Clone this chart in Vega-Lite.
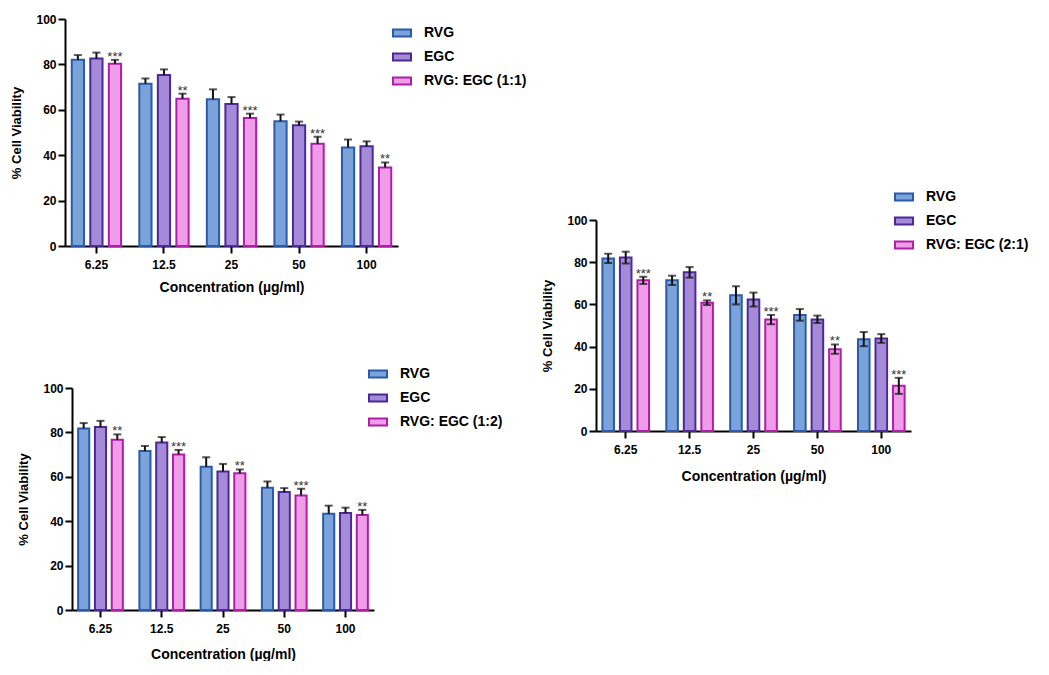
{
  "$schema": "https://vega.github.io/schema/vega-lite/v6.json",
  "padding": {"left": 10, "top": 13, "right": 0, "bottom": 0},
  "datasets": {
    "p1": [
      {"conc": "6.25", "series": "RVG", "value": 82.0, "lo": 82.0, "hi": 84.1},
      {"conc": "6.25", "series": "EGC", "value": 82.6, "lo": 82.6, "hi": 85.2},
      {"conc": "6.25", "series": "RVG: EGC (1:1)", "value": 80.3, "lo": 80.3, "hi": 82.0, "sig": "***"},
      {"conc": "12.5", "series": "RVG", "value": 71.5, "lo": 71.5, "hi": 73.8},
      {"conc": "12.5", "series": "EGC", "value": 75.3, "lo": 75.3, "hi": 77.8},
      {"conc": "12.5", "series": "RVG: EGC (1:1)", "value": 64.9, "lo": 64.9, "hi": 67.1, "sig": "**"},
      {"conc": "25", "series": "RVG", "value": 64.6, "lo": 64.6, "hi": 69.0},
      {"conc": "25", "series": "EGC", "value": 62.6, "lo": 62.6, "hi": 65.6},
      {"conc": "25", "series": "RVG: EGC (1:1)", "value": 56.4, "lo": 56.4, "hi": 58.3, "sig": "***"},
      {"conc": "50", "series": "RVG", "value": 55.0, "lo": 55.0, "hi": 57.9},
      {"conc": "50", "series": "EGC", "value": 53.2, "lo": 53.2, "hi": 54.8},
      {"conc": "50", "series": "RVG: EGC (1:1)", "value": 45.0, "lo": 45.0, "hi": 48.1, "sig": "***"},
      {"conc": "100", "series": "RVG", "value": 43.4, "lo": 43.4, "hi": 46.9},
      {"conc": "100", "series": "EGC", "value": 43.9, "lo": 43.9, "hi": 46.1},
      {"conc": "100", "series": "RVG: EGC (1:1)", "value": 34.6, "lo": 34.6, "hi": 36.8, "sig": "**"}
    ],
    "p2": [
      {"conc": "6.25", "series": "RVG", "value": 81.8, "lo": 79.6, "hi": 84.0},
      {"conc": "6.25", "series": "EGC", "value": 82.2, "lo": 79.4, "hi": 85.0},
      {"conc": "6.25", "series": "RVG: EGC (2:1)", "value": 71.4, "lo": 69.7, "hi": 73.1, "sig": "***"},
      {"conc": "12.5", "series": "RVG", "value": 71.4, "lo": 69.2, "hi": 73.6},
      {"conc": "12.5", "series": "EGC", "value": 75.2, "lo": 72.7, "hi": 77.7},
      {"conc": "12.5", "series": "RVG: EGC (2:1)", "value": 60.8, "lo": 59.7, "hi": 61.9, "sig": "**"},
      {"conc": "25", "series": "RVG", "value": 64.3, "lo": 60.0, "hi": 68.6},
      {"conc": "25", "series": "EGC", "value": 62.3, "lo": 59.0, "hi": 65.6},
      {"conc": "25", "series": "RVG: EGC (2:1)", "value": 52.8, "lo": 50.6, "hi": 55.0, "sig": "***"},
      {"conc": "50", "series": "RVG", "value": 55.0, "lo": 52.3, "hi": 57.8},
      {"conc": "50", "series": "EGC", "value": 52.9, "lo": 51.2, "hi": 54.7},
      {"conc": "50", "series": "RVG: EGC (2:1)", "value": 38.8, "lo": 36.6, "hi": 41.0, "sig": "**"},
      {"conc": "100", "series": "RVG", "value": 43.5, "lo": 40.2, "hi": 46.9},
      {"conc": "100", "series": "EGC", "value": 43.8, "lo": 41.8, "hi": 45.9},
      {"conc": "100", "series": "RVG: EGC (2:1)", "value": 21.4, "lo": 17.6, "hi": 25.2, "sig": "***"}
    ],
    "p3": [
      {"conc": "6.25", "series": "RVG", "value": 81.8, "lo": 81.8, "hi": 84.2},
      {"conc": "6.25", "series": "EGC", "value": 82.4, "lo": 82.4, "hi": 85.2},
      {"conc": "6.25", "series": "RVG: EGC (1:2)", "value": 76.7, "lo": 76.7, "hi": 79.1, "sig": "**"},
      {"conc": "12.5", "series": "RVG", "value": 71.6, "lo": 71.6, "hi": 73.9},
      {"conc": "12.5", "series": "EGC", "value": 75.4, "lo": 75.4, "hi": 77.9},
      {"conc": "12.5", "series": "RVG: EGC (1:2)", "value": 70.1, "lo": 70.1, "hi": 72.1, "sig": "***"},
      {"conc": "25", "series": "RVG", "value": 64.5, "lo": 64.5, "hi": 68.8},
      {"conc": "25", "series": "EGC", "value": 62.4, "lo": 62.4, "hi": 65.8},
      {"conc": "25", "series": "RVG: EGC (1:2)", "value": 61.6, "lo": 61.6, "hi": 63.3, "sig": "**"},
      {"conc": "50", "series": "RVG", "value": 55.1, "lo": 55.1, "hi": 57.9},
      {"conc": "50", "series": "EGC", "value": 53.1, "lo": 53.1, "hi": 54.9},
      {"conc": "50", "series": "RVG: EGC (1:2)", "value": 51.6, "lo": 51.6, "hi": 54.6, "sig": "***"},
      {"conc": "100", "series": "RVG", "value": 43.4, "lo": 43.4, "hi": 47.0},
      {"conc": "100", "series": "EGC", "value": 43.7, "lo": 43.7, "hi": 46.1},
      {"conc": "100", "series": "RVG: EGC (1:2)", "value": 42.8, "lo": 42.8, "hi": 45.1, "sig": "**"}
    ]
  },
  "concat": [
    {
      "vconcat": [
        {
          "width": 333, "height": 227,
          "data": {"name": "p1"},
          "encoding": {
            "x": {"field": "conc", "type": "nominal", "sort": ["6.25", "12.5", "25", "50", "100"], "scale": {"paddingInner": 0.27, "paddingOuter": 0.1}, "axis": {"title": "Concentration (µg/ml)", "titlePadding": 10}},
            "xOffset": {"field": "series", "type": "nominal", "sort": ["RVG", "EGC", "RVG: EGC (1:1)"], "scale": {"paddingInner": 0.34, "paddingOuter": 0}}
          },
          "layer": [
            {
              "mark": {"type": "bar", "strokeWidth": 2},
              "encoding": {
                "y": {"field": "value", "type": "quantitative", "title": "% Cell Viability", "scale": {"domain": [0, 100]}, "axis": {"values": [0, 20, 40, 60, 80, 100]}},
                "color": {"field": "series", "type": "nominal", "scale": {"domain": ["RVG", "EGC", "RVG: EGC (1:1)"], "range": ["#7aa3dc", "#a58ad8", "#ef9de9"]}, "legend": {"title": null, "legendX": 327, "legendY": 4}},
                "stroke": {"field": "series", "type": "nominal", "scale": {"domain": ["RVG", "EGC", "RVG: EGC (1:1)"], "range": ["#2b5ba8", "#4b2a98", "#b01ea8"]}, "legend": {"title": null, "legendX": 327, "legendY": 4}}
              }
            },
            {
              "mark": {"type": "rule", "strokeWidth": 2, "color": "#111"},
              "encoding": {"y": {"field": "lo", "type": "quantitative", "title": "% Cell Viability"}, "y2": {"field": "hi"}}
            },
            {
              "mark": {"type": "tick", "size": 8, "thickness": 2, "color": "#111"},
              "encoding": {"y": {"field": "hi", "type": "quantitative", "title": "% Cell Viability"}}
            },
            {
              "transform": [{"filter": "datum.sig"}],
              "mark": {"type": "text", "baseline": "alphabetic", "fontSize": 13, "color": "#333", "dy": 1},
              "encoding": {"y": {"field": "hi", "type": "quantitative", "title": "% Cell Viability"}, "text": {"field": "sig"}}
            }
          ]
        },
        {
          "width": 309, "height": 222,
          "data": {"name": "p3"},
          "encoding": {
            "x": {"field": "conc", "type": "nominal", "sort": ["6.25", "12.5", "25", "50", "100"], "scale": {"range": [7, 309], "paddingInner": 0.27, "paddingOuter": 0.1}, "axis": {"title": "Concentration (µg/ml)", "titlePadding": 13}},
            "xOffset": {"field": "series", "type": "nominal", "sort": ["RVG", "EGC", "RVG: EGC (1:2)"], "scale": {"paddingInner": 0.34, "paddingOuter": 0}}
          },
          "layer": [
            {
              "mark": {"type": "bar", "strokeWidth": 2},
              "encoding": {
                "y": {"field": "value", "type": "quantitative", "title": "% Cell Viability", "scale": {"domain": [0, 100]}, "axis": {"values": [0, 20, 40, 60, 80, 100], "offset": -7}},
                "color": {"field": "series", "type": "nominal", "scale": {"domain": ["RVG", "EGC", "RVG: EGC (1:2)"], "range": ["#7aa3dc", "#a58ad8", "#ef9de9"]}, "legend": {"title": null, "legendX": 303, "legendY": -24}},
                "stroke": {"field": "series", "type": "nominal", "scale": {"domain": ["RVG", "EGC", "RVG: EGC (1:2)"], "range": ["#2b5ba8", "#4b2a98", "#b01ea8"]}, "legend": {"title": null, "legendX": 303, "legendY": -24}}
              }
            },
            {
              "mark": {"type": "rule", "strokeWidth": 2, "color": "#111"},
              "encoding": {"y": {"field": "lo", "type": "quantitative", "title": "% Cell Viability"}, "y2": {"field": "hi"}}
            },
            {
              "mark": {"type": "tick", "size": 8, "thickness": 2, "color": "#111"},
              "encoding": {"y": {"field": "hi", "type": "quantitative", "title": "% Cell Viability"}}
            },
            {
              "transform": [{"filter": "datum.sig"}],
              "mark": {"type": "text", "baseline": "alphabetic", "fontSize": 13, "color": "#333", "dy": 1},
              "encoding": {"y": {"field": "hi", "type": "quantitative", "title": "% Cell Viability"}, "text": {"field": "sig"}}
            }
          ]
        }
      ],
      "spacing": 70,
      "resolve": {"scale": {"color": "independent", "stroke": "independent", "x": "independent", "y": "independent", "xOffset": "independent"}, "legend": {"color": "independent", "stroke": "independent"}, "axis": {"x": "independent", "y": "independent"}}
    },
    {
      "vconcat": [
        {
          "width": 315, "height": 158,
          "data": {"values": []},
          "mark": {"type": "point", "opacity": 0},
          "encoding": {}
        },
        {
          "width": 315, "height": 211,
          "data": {"name": "p2"},
          "encoding": {
            "x": {"field": "conc", "type": "nominal", "sort": ["6.25", "12.5", "25", "50", "100"], "scale": {"paddingInner": 0.27, "paddingOuter": 0.1}, "axis": {"title": "Concentration (µg/ml)", "titlePadding": 14}},
            "xOffset": {"field": "series", "type": "nominal", "sort": ["RVG", "EGC", "RVG: EGC (2:1)"], "scale": {"paddingInner": 0.34, "paddingOuter": 0}}
          },
          "layer": [
            {
              "mark": {"type": "bar", "strokeWidth": 2},
              "encoding": {
                "y": {"field": "value", "type": "quantitative", "title": "% Cell Viability", "scale": {"domain": [0, 100]}, "axis": {"values": [0, 20, 40, 60, 80, 100]}},
                "color": {"field": "series", "type": "nominal", "scale": {"domain": ["RVG", "EGC", "RVG: EGC (2:1)"], "range": ["#7aa3dc", "#a58ad8", "#ef9de9"]}, "legend": {"title": null, "legendX": 298, "legendY": -33}},
                "stroke": {"field": "series", "type": "nominal", "scale": {"domain": ["RVG", "EGC", "RVG: EGC (2:1)"], "range": ["#2b5ba8", "#4b2a98", "#b01ea8"]}, "legend": {"title": null, "legendX": 298, "legendY": -33}}
              }
            },
            {
              "mark": {"type": "rule", "strokeWidth": 2, "color": "#111"},
              "encoding": {"y": {"field": "lo", "type": "quantitative", "title": "% Cell Viability"}, "y2": {"field": "hi"}}
            },
            {
              "mark": {"type": "tick", "size": 8, "thickness": 2, "color": "#111"},
              "encoding": {"y": {"field": "hi", "type": "quantitative", "title": "% Cell Viability"}}
            },
            {
              "mark": {"type": "tick", "size": 8, "thickness": 2, "color": "#111"},
              "encoding": {"y": {"field": "lo", "type": "quantitative", "title": "% Cell Viability"}}
            },
            {
              "transform": [{"filter": "datum.sig"}],
              "mark": {"type": "text", "baseline": "alphabetic", "fontSize": 13, "color": "#333", "dy": 1},
              "encoding": {"y": {"field": "hi", "type": "quantitative", "title": "% Cell Viability"}, "text": {"field": "sig"}}
            }
          ]
        }
      ],
      "spacing": 10,
      "resolve": {"scale": {"color": "independent", "stroke": "independent", "x": "independent", "y": "independent", "xOffset": "independent"}, "legend": {"color": "independent", "stroke": "independent"}, "axis": {"x": "independent", "y": "independent"}}
    }
  ],
  "columns": 2,
  "spacing": 14,
  "resolve": {"scale": {"color": "independent", "stroke": "independent", "x": "independent", "y": "independent", "xOffset": "independent"}, "legend": {"color": "independent", "stroke": "independent"}, "axis": {"x": "independent", "y": "independent"}},
  "config": {
    "view": {"stroke": null},
    "font": "Liberation Sans",
    "axis": {"domainColor": "#000", "domainWidth": 2, "tickColor": "#000", "tickWidth": 2, "labelFontSize": 12, "labelFontWeight": "bold", "labelColor": "#000", "labelFont": "Liberation Sans", "titleFontSize": 13, "titleFontWeight": "bold", "titleColor": "#000", "titleFont": "Liberation Sans", "grid": false},
    "axisX": {"labelAngle": 0, "labelPadding": 6, "tickSize": 7, "titleFontSize": 14},
    "axisY": {"labelPadding": 2, "titlePadding": 12, "tickSize": 7},
    "legend": {"orient": "none", "padding": 0, "labelFontSize": 14, "labelFontWeight": "bold", "labelColor": "#000", "labelFont": "Liberation Sans", "symbolType": "M-1,-0.4H1V0.4H-1Z", "symbolSize": 324, "symbolStrokeWidth": 2, "symbolOpacity": 1, "labelOffset": 12, "rowPadding": 6}
  }
}
